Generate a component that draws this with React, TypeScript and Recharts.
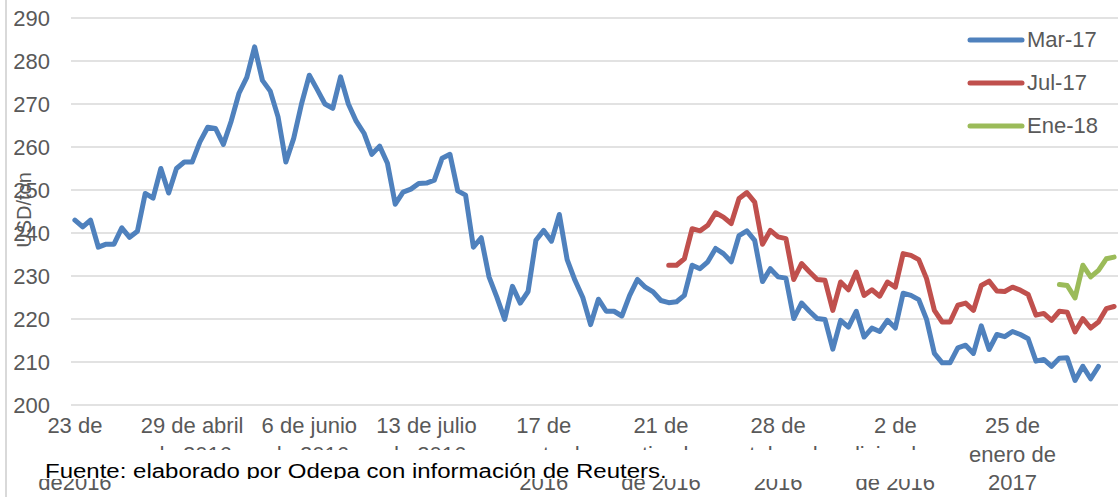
import React from "react";
import { CartesianGrid, Legend, Line, LineChart, XAxis, YAxis } from "recharts";

// Precios futuros (USD/ton), una serie por contrato
const marzo17 = [
  243, 241.4, 243, 236.7, 237.4, 237.4, 241.2, 239, 240.4, 249.2,
  248.1, 255, 249.3, 255, 256.5, 256.5, 261.2, 264.6, 264.3, 260.6,
  266, 272.5, 276.2, 283.3, 275.5, 273, 267, 256.5, 262, 270,
  276.7, 273.4, 270, 269, 276.3, 270, 266, 263.2, 258.3, 260.2,
  256.2, 246.7, 249.5, 250.2, 251.5, 251.6, 252.3, 257.4, 258.3, 249.8,
  248.8, 236.7, 238.9, 229.8, 225.1, 219.9, 227.6, 223.7, 226.4, 238.3,
  240.6, 238.1, 244.3, 233.8, 229, 225, 218.7, 224.6, 221.8, 221.8,
  220.7, 225.5, 229.2, 227.4, 226.3, 224.3, 223.8, 224, 225.5, 232.5,
  231.7, 233.3, 236.4, 235.2, 233.3, 239.4, 240.5, 238.3, 228.7, 231.7,
  229.8, 229.5, 220.1, 223.7, 221.8, 220.1, 219.9, 213, 219.7, 218.1,
  221.8, 215.8, 217.9, 217.1, 219.7, 217.9, 226, 225.5, 224.5, 219.9,
  212, 209.8, 209.8, 213.3, 213.9, 212, 218.4, 212.9, 216.4, 215.9,
  217.1, 216.4, 215.4, 210.2, 210.6, 209, 210.9, 211, 205.7, 209,
  206.1, 209,
];

const inicioJulio17 = 76;
const julio17 = [
  232.5, 232.5, 234, 241, 240.5, 241.8, 244.7, 243.7, 242.2, 248,
  249.4, 247.2, 237.4, 240.6, 239.1, 238.7, 229.2, 232.9, 231, 229.2,
  229, 222, 228.6, 226.8, 230.9, 225.5, 226.8, 225.3, 228.6, 227.4,
  235.2, 234.8, 233.8, 229.4, 222, 219.3, 219.3, 223.2, 223.7, 222,
  227.8, 228.8, 226.5, 226.4, 227.4, 226.7, 225.7, 220.9, 221.3, 219.7,
  221.8, 221.6, 217, 220.1, 217.9, 219.3, 222.4, 222.9,
];

const inicioEnero18 = 126;
const enero18 = [228, 227.8, 224.9, 232.5, 229.8, 231.3, 234, 234.4];

const totalFechas = 134;

const posEtiquetas = [0, 15, 30, 45, 60, 75, 90, 105, 120];
const textoEtiquetas = [
  ["23 de", "marzo", "de2016"],
  ["29 de abril", "de 2016"],
  ["6 de junio", "de 2016"],
  ["13 de julio", "de 2016"],
  ["17 de", "agosto de", "2016"],
  ["21 de", "septiembre", "de 2016"],
  ["28 de", "octubre de", "2016"],
  ["2 de", "diciembre", "de 2016"],
  ["25 de", "enero de", "2017"],
];

const ticksY = [200, 210, 220, 230, 240, 250, 260, 270, 280, 290];

const series = [
  { key: "mar17", name: "Mar-17", color: "#4F81BD" },
  { key: "jul17", name: "Jul-17", color: "#C0504D" },
  { key: "ene18", name: "Ene-18", color: "#9BBB59" },
];

const data = Array.from({ length: totalFechas }, (_, i) => ({
  i,
  mar17: i < marzo17.length ? marzo17[i] : null,
  jul17:
    i >= inicioJulio17 && i - inicioJulio17 < julio17.length
      ? julio17[i - inicioJulio17]
      : null,
  ene18:
    i >= inicioEnero18 && i - inicioEnero18 < enero18.length
      ? enero18[i - inicioEnero18]
      : null,
}));

const FONT = '"Liberation Sans", Arial, sans-serif';
const GRIS = "#595959";

const XTick = ({ x, payload }: any) => {
  const k = posEtiquetas.indexOf(payload.value);
  const lineas = k >= 0 ? textoEtiquetas[k] : [];
  return (
    <g>
      {lineas.map((l, n) => (
        <text
          key={n}
          x={x}
          y={433 + n * 28.5}
          textAnchor="middle"
          fill={GRIS}
          fontSize={22}
          fontFamily={FONT}
        >
          {l}
        </text>
      ))}
    </g>
  );
};

const YTick = ({ y, payload }: any) => (
  <text
    x={50}
    y={y}
    dy={7.5}
    textAnchor="end"
    fill={GRIS}
    fontSize={22}
    fontFamily={FONT}
  >
    {payload.value}
  </text>
);

const YTitle = () => (
  <text
    transform="rotate(-90)"
    x={-210}
    y={24}
    dy="0.35em"
    textAnchor="middle"
    fill={GRIS}
    fontSize={20}
    fontFamily={FONT}
  >
    USD/ton
  </text>
);

const Leyenda = () => (
  <div style={{ fontFamily: FONT }}>
    {series.map((s) => (
      <div
        key={s.key}
        style={{ height: 43, display: "flex", alignItems: "center" }}
      >
        <svg width={62} height={10}>
          <line
            x1={7}
            y1={5}
            x2={59}
            y2={5}
            stroke={s.color}
            strokeWidth={5}
            strokeLinecap="round"
          />
        </svg>
        <span style={{ fontSize: 22, color: GRIS, marginLeft: 2 }}>
          {s.name}
        </span>
      </div>
    ))}
  </div>
);

export default function App() {
  return (
    <div
      style={{
        position: "absolute",
        left: 0,
        top: 0,
        width: 1118,
        height: 497,
        background: "#fff",
        overflow: "hidden",
        fontFamily: FONT,
      }}
    >
      <LineChart
        width={1118}
        height={497}
        data={data}
        margin={{ top: 18, right: 0, bottom: 0, left: 0 }}
      >
        <CartesianGrid vertical={false} stroke="#D9D9D9" strokeWidth={1.5} />
        <XAxis
          type="number"
          dataKey="i"
          domain={[-0.5, totalFechas - 0.5]}
          ticks={posEtiquetas}
          interval={0}
          axisLine={false}
          tickLine={false}
          height={92}
          tick={<XTick />}
        />
        <YAxis
          domain={[200, 290]}
          ticks={ticksY}
          interval={0}
          axisLine={false}
          tickLine={false}
          width={71}
          tick={<YTick />}
          label={<YTitle />}
        />
        <Legend
          layout="vertical"
          align="center"
          verticalAlign="middle"
          content={<Leyenda />}
          wrapperStyle={{ left: 963, top: 18.5, width: 155, bottom: "auto" }}
        />
        {series.map((s) => (
          <Line
            key={s.key}
            type="linear"
            dataKey={s.key}
            name={s.name}
            stroke={s.color}
            strokeWidth={5}
            strokeLinejoin="round"
            strokeLinecap="round"
            dot={false}
            activeDot={false}
            isAnimationActive={false}
          />
        ))}
      </LineChart>
      <div
        style={{
          position: "absolute",
          left: 5,
          top: 0,
          width: 1.5,
          height: 497,
          background: "#D9D9D9",
        }}
      />
      <div
        style={{
          position: "absolute",
          left: 20,
          top: 450,
          width: 930,
          height: 29,
          background: "#fff",
          overflow: "hidden",
          paddingLeft: 25,
          paddingTop: 6.5,
          boxSizing: "border-box",
        }}
      >
        <span
          style={{
            display: "inline-block",
            whiteSpace: "nowrap",
            fontSize: 20,
            lineHeight: "29px",
            color: "#000",
            transform: "scaleX(1.2)",
            transformOrigin: "left center",
          }}
        >
          Fuente: elaborado por Odepa con información de Reuters.
        </span>
      </div>
    </div>
  );
}
